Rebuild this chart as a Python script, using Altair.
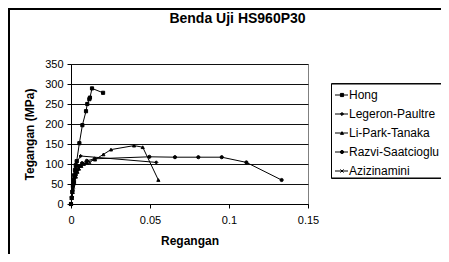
import altair as alt
import pandas as pd

series = ["Hong", "Legeron-Paultre", "Li-Park-Tanaka", "Razvi-Saatcioglu", "Azizinamini"]

hong_x = [0, 0.0004, 0.0008, 0.0012, 0.0016, 0.002, 0.0025, 0.003, 0.0036, 0.0053, 0.0072, 0.0095, 0.0103, 0.0116, 0.012, 0.0133, 0.0203]
hong_y = [0, 15, 30, 45, 60, 72, 85, 97, 107, 152, 197, 232, 250, 262, 266, 289, 278]

leg_x = [0, 0.0005, 0.001, 0.0015, 0.002, 0.0025, 0.003, 0.0037, 0.0061, 0.054]
leg_y = [0, 18, 36, 52, 66, 80, 92, 105, 120, 104]

li_x = [0, 0.0005, 0.001, 0.002, 0.003, 0.004, 0.005, 0.0065, 0.008, 0.01, 0.0152, 0.0205, 0.0253, 0.0399, 0.0454, 0.0553]
li_y = [0, 15, 30, 52, 68, 80, 88, 95, 100, 104, 111, 124, 136, 146, 142, 60]

raz_x = [0, 0.0005, 0.001, 0.002, 0.003, 0.004, 0.005, 0.007, 0.01, 0.015, 0.0496, 0.0658, 0.0806, 0.0954, 0.111, 0.1333]
raz_y = [0, 17, 33, 55, 72, 85, 94, 102, 108, 113, 118, 117, 117, 117, 104, 60]

azi_x = [0, 0.0005, 0.001, 0.0015, 0.002, 0.003, 0.004, 0.005, 0.006, 0.008, 0.01, 0.012]
azi_y = [0, 15, 30, 42, 55, 70, 82, 90, 95, 100, 102, 103]

x_ticks = [0, 0.05, 0.1, 0.15]
y_ticks = [0, 50, 100, 150, 200, 250, 300, 350]

rows = []
for name, xs, ys in zip(series, [hong_x, leg_x, li_x, raz_x, azi_x], [hong_y, leg_y, li_y, raz_y, azi_y]):
    for i, (a, b) in enumerate(zip(xs, ys)):
        rows.append({"series": name, "strain": a, "stress": b, "idx": i})
df = pd.DataFrame(rows)
leg_df = pd.DataFrame({"series": series})

FONT = "Liberation Sans"
xcross = "M-1,-1L1,1M-1,1L1,-1"
shape_scale = alt.Scale(domain=series, range=["square", "diamond", "triangle-up", "circle", xcross])

xenc = alt.X("strain:Q", scale=alt.Scale(domain=[0, 0.15], nice=False),
             axis=alt.Axis(values=x_ticks, format=".3~g", title="Regangan", grid=False,
                           tickSize=4, labelPadding=6, titlePadding=10, labelFlush=False,
                           domainColor="black", tickColor="black"))
yenc = alt.Y("stress:Q", scale=alt.Scale(domain=[0, 350], nice=False),
             axis=alt.Axis(values=y_ticks, title="Tegangan (MPa)", grid=True,
                           gridColor="#111", gridWidth=1, tickSize=4, labelPadding=4,
                           titlePadding=8, domainColor="black", tickColor="black"))

lines = alt.Chart(df).mark_line(color="black", strokeWidth=1, clip=True).encode(
    x=xenc, y=yenc, detail="series:N", order="idx:Q")

pts = alt.Chart(df).mark_point(filled=True, fill="black", stroke="black", strokeWidth=1,
                              size=10, opacity=1).encode(
    x=xenc,
    y=alt.Y("stress:Q", scale=alt.Scale(domain=[0, 350], nice=False), axis=None),
    shape=alt.Shape("series:N", scale=shape_scale, legend=None))

outer = alt.Chart(leg_df).mark_rect(fill=None, stroke="black", strokeWidth=1.5).encode(
    x=alt.value(-62), x2=alt.value(400), y=alt.value(-55), y2=alt.value(260))

legbox = alt.Chart(leg_df).mark_rect(fill="white", stroke="black", strokeWidth=1).encode(
    x=alt.value(260.5), x2=alt.value(376), y=alt.value(20), y2=alt.value(114))

lscale = alt.Scale(type="point", domain=series, range=[31, 107], padding=0)
leg_rules = alt.Chart(leg_df).mark_rule(color="black", strokeWidth=1).encode(
    x=alt.value(264), x2=alt.value(277),
    y=alt.Y("series:N", scale=lscale, axis=None))
leg_pts = alt.Chart(leg_df).mark_point(filled=True, fill="black", stroke="black", strokeWidth=1,
                                      size=10, opacity=1).encode(
    x=alt.value(271),
    y=alt.Y("series:N", scale=lscale, axis=None),
    shape=alt.Shape("series:N", scale=shape_scale, legend=None))
leg_text = alt.Chart(leg_df).mark_text(align="left", baseline="middle", font=FONT, fontSize=12,
                                      color="black", limit=97, ellipsis="").encode(
    x=alt.value(278),
    y=alt.Y("series:N", scale=lscale, axis=None),
    text="series:N")

chart = alt.layer(outer, lines, pts, legbox, leg_rules, leg_pts, leg_text).resolve_scale(
    y="independent"
).properties(
    width=237, height=140,
    autosize=alt.AutoSizeParams(type="none"),
    padding={"left": 63, "top": 56, "right": 133, "bottom": 50},
    title=alt.TitleParams("Benda Uji HS960P30", font=FONT, fontSize=14, fontWeight="bold",
                          anchor="middle", frame="group", dx=48, offset=-18, color="black"),
).configure_view(stroke="#808080", strokeWidth=1).configure_axis(
    labelFont=FONT, labelFontSize=11, labelColor="black",
    titleFont=FONT, titleFontSize=12, titleFontWeight="bold", titleColor="black"
)

chart.save("out.html", embed_options={"renderer": "svg", "actions": False})
